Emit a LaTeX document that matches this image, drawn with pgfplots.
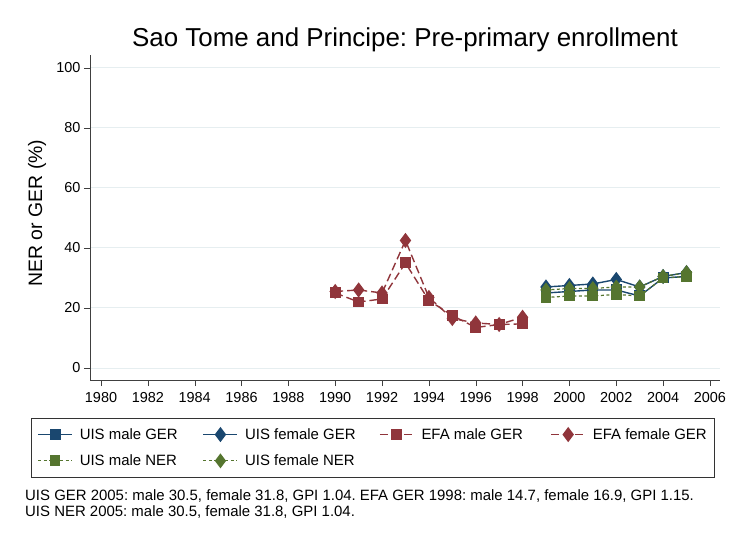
\documentclass[border=0pt]{standalone}
\usepackage{pgfplots}
\pgfplotsset{compat=1.18}
\usepackage{fontspec}
\setmainfont{Liberation Sans}
\frenchspacing
\definecolor{snavy}{RGB}{26,71,111}
\definecolor{smaroon}{RGB}{144,53,59}
\definecolor{sgreen}{RGB}{85,117,47}
\definecolor{sgrid}{RGB}{230,238,240}
\newcommand{\lt}[2]{\hspace*{5bp}\makebox[#1][l]{#2}}
\begin{document}
\begin{tikzpicture}
\fill[white] (0,0) rectangle (731bp,-536bp);
\begin{axis}[
  at={(90bp,-380bp)}, anchor=south west,
  scale only axis, width=630bp, height=325bp,
  xmin=1979.53, xmax=2006.43, ymin=-4, ymax=104.3,
  axis lines=left, axis line style={-, black!75},
  xtick={1980,1982,...,2006}, ytick={0,20,...,100},
  tick align=outside, tick style={black!75, major tick length=6bp},
  xticklabel style={font=\fontsize{14.5}{17}\selectfont, /pgf/number format/1000 sep={}, yshift=-3bp},
  yticklabel style={font=\fontsize{14.5}{17}\selectfont},
  /pgf/number format/assume math mode=true,
  ymajorgrids, grid style={sgrid, line width=1pt},
  clip=false,
  legend style={at={(-0.0937,-0.1169)}, anchor=north west, draw=black!80, line width=0.8pt,
    font=\fontsize{15}{17}\selectfont, inner xsep=6bp, inner ysep=8bp, row sep=10bp},
  legend columns=4, legend cell align=left,
  legend image code/.code={\draw[#1, mark repeat=2, mark phase=2] plot coordinates {(0bp,0bp) (17bp,0bp) (34bp,0bp)};},
]
\addplot[snavy, line width=1.4pt, mark=square*, mark size=4.8pt] coordinates {
(1999,25) (2000,25.5) (2001,26) (2002,26) (2003,24) (2004,30) (2005,30.5)};
\addlegendentry{\lt{121bp}{UIS male GER}}
\addplot[snavy, line width=1.4pt, mark=diamond*, mark size=6.5pt] coordinates {
(1999,27) (2000,27.5) (2001,28) (2002,29.5) (2003,27) (2004,30.5) (2005,31.8)};
\addlegendentry{\lt{132bp}{UIS female GER}}
\addplot[smaroon, line width=1.4pt, dash pattern=on 8bp off 4bp, mark=square*, mark size=4.8pt, mark options={solid}] coordinates {
(1990,25) (1991,22) (1992,23) (1993,35) (1994,22.5) (1995,17.5) (1996,13.5) (1997,14.5) (1998,14.7)};
\addlegendentry{\lt{127bp}{EFA male GER}}
\addplot[smaroon, line width=1.4pt, dash pattern=on 8bp off 4bp, mark=diamond*, mark size=6.5pt, mark options={solid}] coordinates {
(1990,25.5) (1991,26) (1992,25) (1993,42.5) (1994,23.5) (1995,16.5) (1996,15) (1997,14.5) (1998,16.9)};
\addlegendentry{\hspace*{5bp}EFA female GER}
\addplot[sgreen, line width=1.2pt, dash pattern=on 3bp off 2.5bp, mark=square*, mark size=4.8pt, mark options={solid}] coordinates {
(1999,23.5) (2000,24) (2001,24) (2002,24.5) (2003,24) (2004,30) (2005,30.5)};
\addlegendentry{\lt{121bp}{UIS male NER}}
\addplot[sgreen, line width=1.2pt, dash pattern=on 3bp off 2.5bp, mark=diamond*, mark size=6.5pt, mark options={solid}] coordinates {
(1999,26) (2000,26.5) (2001,26.5) (2002,27) (2003,27) (2004,30.5) (2005,31.8)};
\addlegendentry{\lt{132bp}{UIS female NER}}
\end{axis}
\node[font=\fontsize{26}{30}\selectfont] at (405bp,-40bp) {Sao Tome and Principe: Pre-primary enrollment};
\node[font=\fontsize{19.5}{23}\selectfont, rotate=90] at (37bp,-213bp) {NER or GER (\%)};
\node[font=\fontsize{15}{17}\selectfont, anchor=west, inner sep=0pt] at (25bp,-496bp) {UIS GER 2005: male 30.5, female 31.8, GPI 1.04. EFA GER 1998: male 14.7, female 16.9, GPI 1.15.};
\node[font=\fontsize{15}{17}\selectfont, anchor=west, inner sep=0pt] at (25bp,-512bp) {UIS NER 2005: male 30.5, female 31.8, GPI 1.04.};
\end{tikzpicture}
\end{document}
